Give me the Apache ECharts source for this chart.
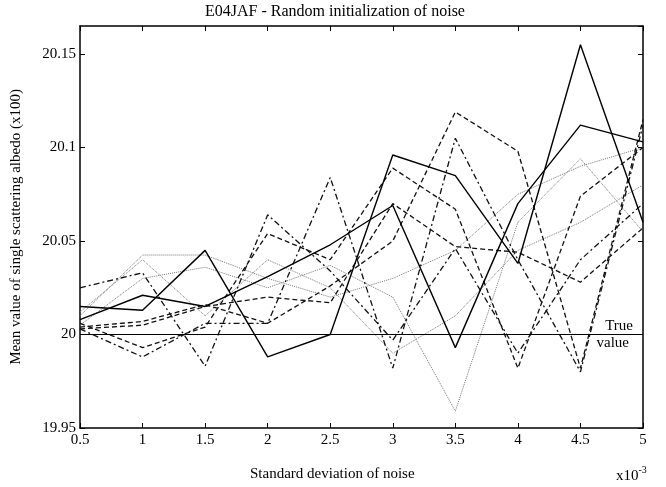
<!DOCTYPE html>
<html><head><meta charset="utf-8">
<script src="https://cdn.jsdelivr.net/npm/echarts@6/dist/echarts.min.js"></script>
<style>html,body{margin:0;padding:0;background:#fff}#c{width:666px;height:487px}</style>
</head><body><div id="c"></div>
<script>
const noiseStd = [0.5, 1, 1.5, 2, 2.5, 3, 3.5, 4, 4.5, 5];
const xTicks = [0.5, 1, 1.5, 2, 2.5, 3, 3.5, 4, 4.5, 5];
const yTicks = [19.95, 20, 20.05, 20.1, 20.15];
const trueValue = 20;
const solidA = [20.015, 20.013, 20.045, 19.988, 20.000, 20.096, 20.085, 20.038, 20.155, 20.060];
const solidB = [20.008, 20.021, 20.015, 20.031, 20.048, 20.069, 19.993, 20.070, 20.112, 20.103];
const dashA  = [20.004, 20.007, 20.016, 20.006, 20.026, 20.050, 20.119, 20.098, 19.982, 20.115];
const dashB  = [20.006, 19.993, 20.004, 20.054, 20.040, 20.089, 20.067, 19.982, 20.074, 20.100];
const dashC  = [20.003, 20.005, 20.015, 20.020, 20.017, 20.070, 20.047, 20.044, 20.028, 20.057];
const dashDotA = [20.025, 20.033, 19.983, 20.064, 20.034, 19.997, 20.046, 19.990, 20.040, 20.070];
const dashDotB = [20.003, 19.988, 20.006, 20.006, 20.084, 19.982, 20.105, 20.040, 19.980, 20.112];
const dottedA = [20.010, 20.0425, 20.0425, 20.030, 20.020, 20.030, 20.045, 20.075, 20.090, 20.100];
const dottedB = [20.005, 20.030, 20.036, 20.025, 20.037, 20.020, 19.959, 20.060, 20.094, 20.055];
const dottedC = [20.012, 20.040, 20.010, 20.040, 20.025, 19.990, 20.010, 20.045, 20.060, 20.080];

const FONT = '"Liberation Serif", "Times New Roman", serif';
const chart = echarts.init(document.getElementById('c'), null, {renderer: 'canvas'});
const pair = arr => noiseStd.map((x, i) => [x, arr[i]]);

const lineDefs = [
  {d: dottedA, type: 'dotted', color: '#777', w: 1},
  {d: dottedB, type: 'dotted', color: '#777', w: 1},
  {d: dottedC, type: 'dotted', color: '#777', w: 1},
  {d: dashDotA, type: [6, 3, 2, 3], color: '#111', w: 1.3},
  {d: dashDotB, type: [6, 3, 2, 3], color: '#111', w: 1.3},
  {d: dashA, type: [5, 3], color: '#111', w: 1.3},
  {d: dashB, type: [5, 3], color: '#111', w: 1.3},
  {d: dashC, type: [5, 3], color: '#111', w: 1.3},
  {d: solidA, type: 'solid', color: '#000', w: 1.4},
  {d: solidB, type: 'solid', color: '#000', w: 1.4}
];

const series = lineDefs.map(l => ({
  type: 'line', data: pair(l.d), showSymbol: false, symbol: 'none', silent: true,
  lineStyle: {color: l.color, width: l.w, type: l.type}, z: 2
}));
series.push({
  type: 'line', data: [], silent: true,
  markLine: {
    symbol: 'none', silent: true, animation: false,
    lineStyle: {color: '#000', width: 1.2, type: 'solid'},
    data: [
      {yAxis: trueValue, label: {show: true, position: 'insideEndTop', formatter: 'True', color: '#000', fontFamily: FONT, fontSize: 15, distance: [10, 1]}},
      {yAxis: trueValue, label: {show: true, position: 'insideEndBottom', formatter: 'value', color: '#000', fontFamily: FONT, fontSize: 15, distance: [14, 1]}}
    ]
  }
});

const axisCommon = {
  min: xTicks[0], max: xTicks[xTicks.length - 1], interval: 0.5,
  axisLine: {show: true, onZero: false, lineStyle: {color: '#000', width: 1.5}},
  axisTick: {show: true, inside: true, length: 5, lineStyle: {color: '#000'}},
  splitLine: {show: false}
};

chart.setOption({
  animation: false,
  backgroundColor: '#fff',
  grid: {left: 80, right: 23, top: 26, bottom: 59},
  xAxis: [
    Object.assign({type: 'value', position: 'bottom',
      axisLabel: {color: '#000', fontFamily: FONT, fontSize: 15, margin: 5}}, axisCommon),
    Object.assign({type: 'value', position: 'top', axisLabel: {show: false}}, axisCommon)
  ],
  yAxis: [
    {type: 'value', position: 'left', min: yTicks[0], max: 20.165, interval: 0.05,
      name: 'Mean value of single scattering albedo (x100)', nameLocation: 'middle', nameGap: 56,
      nameTextStyle: {color: '#000', fontFamily: FONT, fontSize: 15},
      axisLine: {show: true, onZero: false, lineStyle: {color: '#000', width: 1.5}},
      axisTick: {show: true, inside: true, length: 5, lineStyle: {color: '#000'}},
      axisLabel: {color: '#000', fontFamily: FONT, fontSize: 15, margin: 4, showMaxLabel: false,
        formatter: v => yTicks.some(t => Math.abs(t - v) < 1e-6) ? String(+v.toFixed(2)) : ''},
      splitLine: {show: false}},
    {type: 'value', position: 'right', min: yTicks[0], max: 20.165, interval: 0.05,
      axisLine: {show: true, onZero: false, lineStyle: {color: '#000', width: 1.5}},
      axisTick: {show: true, inside: true, length: 5, lineStyle: {color: '#000'}},
      axisLabel: {show: false}, splitLine: {show: false}}
  ],
  graphic: [
    {type: 'text', left: 205, top: 4, style: {text: 'E04JAF - Random initialization of noise', fill: '#000', font: '16px ' + FONT}},
    {type: 'text', left: 250, top: 467, style: {text: 'Standard deviation of noise', fill: '#000', font: '15px ' + FONT}},
    {type: 'text', left: 616, top: 465, style: {
      text: '{b|x10}{s|-3}', rich: {b: {fill: '#000', font: '15px ' + FONT, padding: [4, 0, 0, 0]}, s: {fill: '#000', font: '10px ' + FONT, verticalAlign: 'top', padding: [0, 0, 8, 0]}}}}
  ],
  series: series
});
</script></body></html>
